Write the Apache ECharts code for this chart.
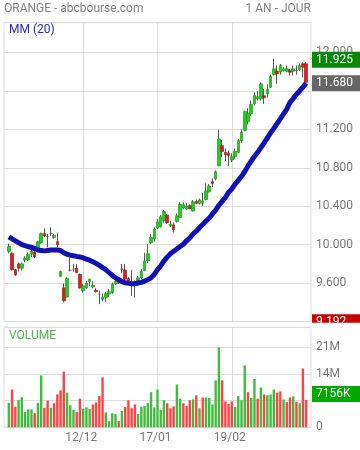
<!DOCTYPE html>
<html><head><meta charset="utf-8">
<script src="https://cdn.jsdelivr.net/npm/echarts@6/dist/echarts.min.js"></script>
<style>html,body{margin:0;padding:0;background:#fff}#c{width:360px;height:450px}</style>
</head><body><div id="c"></div>
<script>
// ---- data ----
const dates = ['11/11','12/11','13/11','14/11','15/11','18/11','19/11','20/11','21/11','22/11','25/11','26/11','27/11','28/11','29/11',
'02/12','03/12','04/12','05/12','06/12','09/12','10/12','11/12','12/12','13/12','16/12','17/12','18/12','19/12','20/12','23/12','24/12','27/12','30/12','31/12',
'02/01','03/01','06/01','07/01','08/01','09/01','10/01','13/01','14/01','15/01','16/01','17/01','20/01','21/01','22/01','23/01','24/01','27/01','28/01','29/01','30/01','31/01',
'03/02','04/02','05/02','06/02','07/02','10/02','11/02','12/02','13/02','14/02','17/02','18/02','19/02','20/02','21/02','24/02','25/02','26/02','27/02','28/02',
'03/03','04/03','05/03','06/03','07/03','10/03','11/03','12/03','13/03','14/03','17/03','18/03','19/03','20/03','21/03','24/03'];
const xTickLabels = ['12/12','17/01','19/02'];
const open  = [9.93,9.91,9.74,9.80,9.755,9.84,9.84,9.90,9.92,9.945,10.02,10.115,10.085,10.115,10.075,10.03,9.67,9.55,9.455,9.735,9.745,9.755,9.69,9.52,9.55,9.615,9.56,9.525,9.485,9.43,9.45,9.485,9.50,9.59,9.63,9.745,9.735,9.645,9.61,9.575,9.605,9.655,9.73,9.83,10.02,10.057,10.172,10.186,10.248,10.308,10.193,10.206,10.241,10.283,10.38,10.37,10.405,10.35,10.45,10.43,10.43,10.47,10.55,10.655,10.683,10.82,11.03,10.96,10.955,10.88,10.915,10.96,11.082,11.19,11.28,11.36,11.465,11.52,11.517,11.55,11.57,11.638,11.77,11.805,11.795,11.812,11.805,11.81,11.805,11.812,11.82,11.882,11.882];
const close = [9.98,9.74,9.685,9.755,9.80,9.86,9.90,9.93,9.875,10.03,10.115,10.09,10.085,10.115,10.095,10.00,9.72,9.415,9.65,9.735,9.745,9.71,9.55,9.57,9.60,9.64,9.575,9.51,9.485,9.455,9.49,9.51,9.59,9.62,9.60,9.745,9.64,9.62,9.61,9.575,9.655,9.72,9.83,9.905,10.075,10.162,10.238,10.29,10.345,10.23,10.214,10.157,10.30,10.42,10.415,10.405,10.376,10.446,10.43,10.465,10.455,10.56,10.61,10.637,10.76,11.10,10.97,10.936,10.93,10.915,10.97,11.082,11.17,11.385,11.367,11.458,11.552,11.54,11.674,11.53,11.614,11.75,11.83,11.778,11.864,11.83,11.83,11.795,11.83,11.812,11.864,11.847,11.69];
const high  = [10.01,9.92,9.745,9.815,9.815,9.88,9.92,9.945,9.945,10.04,10.125,10.17,10.11,10.18,10.11,10.125,9.73,9.595,9.66,9.86,9.80,9.80,9.70,9.59,9.62,9.645,9.62,9.545,9.52,9.49,9.51,9.54,9.605,9.64,9.65,9.80,9.80,9.66,9.735,9.63,9.675,9.745,9.915,10.005,10.11,10.18,10.266,10.31,10.36,10.32,10.248,10.23,10.324,10.446,10.44,10.43,10.42,10.464,10.47,10.48,10.54,10.64,10.63,10.69,10.77,11.194,11.09,11.0,10.98,10.95,11.0,11.10,11.20,11.395,11.42,11.50,11.586,11.60,11.69,11.62,11.67,11.77,11.934,11.864,11.88,11.847,11.864,11.83,11.864,11.864,11.885,11.90,11.90];
const low   = [9.91,9.73,9.675,9.72,9.73,9.815,9.83,9.87,9.86,9.935,10.01,10.075,9.97,10.09,10.06,9.97,9.665,9.40,9.45,9.72,9.72,9.70,9.54,9.50,9.535,9.57,9.545,9.50,9.38,9.41,9.40,9.455,9.49,9.58,9.59,9.70,9.62,9.61,9.465,9.45,9.57,9.64,9.725,9.81,10.005,10.03,10.162,10.18,10.23,10.215,10.18,10.126,10.23,10.276,10.366,10.36,10.37,10.345,10.42,10.42,10.40,10.46,10.54,10.60,10.67,10.82,10.91,10.87,10.82,10.86,10.895,10.95,11.06,11.18,11.25,11.34,11.447,11.50,11.50,11.465,11.53,11.63,11.76,11.674,11.77,11.80,11.795,11.76,11.76,11.77,11.81,11.742,11.69];
const ma20  = [10.08,10.06,10.04,10.02,10.00,9.99,9.98,9.97,9.96,9.945,9.94,9.935,9.94,9.945,9.945,9.945,9.94,9.915,9.90,9.89,9.885,9.878,9.872,9.862,9.85,9.838,9.822,9.805,9.785,9.76,9.74,9.71,9.68,9.655,9.635,9.615,9.603,9.598,9.594,9.594,9.60,9.607,9.62,9.635,9.655,9.69,9.74,9.78,9.83,9.87,9.905,9.93,9.955,9.98,10.005,10.04,10.07,10.11,10.14,10.175,10.21,10.245,10.275,10.32,10.36,10.41,10.45,10.49,10.545,10.58,10.63,10.67,10.71,10.76,10.82,10.87,10.92,10.96,11.01,11.06,11.11,11.165,11.21,11.26,11.31,11.36,11.41,11.48,11.52,11.565,11.60,11.64,11.68];
const volume = [6.4,9.9,5.4,7.1,7.9,4.0,4.7,4.7,3.7,6.4,13.6,5.1,7.0,5.1,6.3,8.6,9.7,14.6,9.1,5.8,4.6,4.0,7.5,4.8,5.2,4.8,6.0,6.5,8.2,13.1,3.9,1.6,3.7,3.5,1.6,4.3,5.3,7.1,5.0,6.0,3.5,5.4,5.6,6.3,9.2,5.2,9.9,4.6,7.1,6.3,5.0,5.5,11.2,7.5,6.3,5.6,7.1,7.3,8.4,5.0,7.8,7.8,7.7,6.0,12.3,20.9,12.3,6.8,6.1,6.8,5.3,8.2,7.1,16.2,9.2,7.7,12.7,7.5,10.4,8.6,8.4,8.6,9.9,9.1,9.4,7.3,6.6,7.8,8.1,6.7,6.3,15.4,7.156];
const volUp = [1,0,0,1,1,1,1,1,0,1,1,0,0,1,0,0,0,0,1,1,1,0,0,1,1,1,0,0,0,0,1,1,1,1,0,1,0,0,0,0,1,1,1,1,1,1,1,1,1,0,0,0,1,1,0,0,0,1,0,1,0,1,1,1,1,1,0,0,0,0,1,1,1,1,0,1,1,0,1,0,1,1,1,0,0,1,0,0,1,0,1,0,0];
const priceTickLabels = [9.6,10.0,10.4,10.8,11.2,12.0];
const volTickLabels = [0,14,21];
const tagHigh = 11.925;
const tagLow = 9.192;

// ---- chart ----
const chart = echarts.init(document.getElementById('c'), null, {renderer:'canvas'});
const cats = [''].concat(dates, [' ']);
const F = 'Roboto';
const gridLine = {silent:true, symbol:['none','none'], label:{show:false}, z:1,
  lineStyle:{color:'#dddddd', width:1, type:'solid'}, emphasis:{disabled:true},
  data: xTickLabels.map(d => ({xAxis:d})), animation:false};

// wick series: degenerate body at the low, wick drawn from high to low
const wickData = dates.map((d,i) => [i+1, low[i], low[i], low[i], high[i]]);
const bodyData = dates.map((d,i) => {
  const v = [i+1, open[i], close[i], Math.min(open[i],close[i]), Math.max(open[i],close[i])];
  if (open[i] === close[i]) return {value:v, itemStyle:{color:'#666', color0:'#666', borderColor:'#666', borderColor0:'#666'}};
  return v;
});
const maData = ma20.map((v,i) => [i+1, v]);
const volData = volume.map((v,i) => ({value:[i+1, v], itemStyle:{color: volUp[i] ? '#3fbb3f' : '#ff4343'}}));

const option = {
  animation:false,
  textStyle:{fontFamily:F},
  grid:[
    {left:4, width:307, top:22.7, height:298.8, show:true, borderColor:'#dddddd', borderWidth:1, backgroundColor:'transparent'},
    {left:4, width:307, top:327.3, height:100, show:true, borderColor:'#dddddd', borderWidth:1, backgroundColor:'transparent'}
  ],
  xAxis:[
    {type:'category', gridIndex:0, data:cats, boundaryGap:true, axisLine:{show:false}, axisTick:{show:false}, axisLabel:{show:false}, splitLine:{show:false}},
    {type:'category', gridIndex:1, data:cats, boundaryGap:true, axisLine:{show:false}, axisTick:{show:false},
     axisLabel:{show:true, interval:(i,v) => xTickLabels.includes(v), color:'#777', fontSize:12, fontFamily:F, margin:5, padding:[0,4,0,0]},
     splitLine:{show:false}}
  ],
  yAxis:[
    {type:'value', gridIndex:0, position:'right', min:9.2, max:12.31, interval:0.4, scale:true,
     axisLine:{show:false}, axisTick:{show:false}, splitLine:{show:true, lineStyle:{color:'#dddddd', width:1}},
     axisLabel:{color:'#777', fontSize:12, fontFamily:F, margin:5, padding:[0,0,4,0],
       formatter: v => priceTickLabels.some(t => Math.abs(t-v) < 1e-6) ? v.toFixed(3) : ''}},
    {type:'value', gridIndex:1, position:'right', min:0, max:26.2, interval:7,
     axisLine:{show:false}, axisTick:{show:false}, splitLine:{show:true, lineStyle:{color:'#dddddd', width:1}},
     axisLabel:{color:'#777', fontSize:12, fontFamily:F, margin:5, padding:[0,0,4,0],
       formatter: v => volTickLabels.some(t => Math.abs(t-v) < 1e-6) ? (v === 0 ? '0' : v + 'M') : ''}}
  ],
  series:[
    {type:'candlestick', name:'wick', xAxisIndex:0, yAxisIndex:0, data:wickData, encode:{x:0, y:[1,2,3,4]},
     barWidth:1, clip:false, z:2,
     itemStyle:{color:'#555', color0:'#555', borderColor:'#555', borderColor0:'#555', borderColorDoji:'#555', borderWidth:1},
     markLine:gridLine},
    {type:'candlestick', name:'body', xAxisIndex:0, yAxisIndex:0, data:bodyData, encode:{x:0, y:[1,2,3,4]},
     barWidth:3, clip:false, z:3,
     itemStyle:{color:'#22d022', color0:'#e02020', borderColor:'#149a14', borderColor0:'#a81414', borderWidth:0.7}},
    {type:'line', name:'MM (20)', xAxisIndex:0, yAxisIndex:0, data:maData, symbol:'none', z:4,
     lineStyle:{color:'#1212b4', width:5}},
    {type:'bar', name:'VOLUME', xAxisIndex:1, yAxisIndex:1, data:volData, barWidth:2.4, z:3,
     markLine:gridLine}
  ]
};
chart.setOption(option);

const py = v => chart.convertToPixel({yAxisIndex:0}, v);
const vy = v => chart.convertToPixel({yAxisIndex:1}, v);
function tag(y, txt, fill) {
  return [
    {type:'rect', z:100, shape:{x:312, y:y-8, width:48, height:16}, style:{fill:fill}},
    {type:'text', z:101, x:316, y:y, style:{text:txt, fill:'#fff', font:'12px ' + F, verticalAlign:'middle', align:'left'}}
  ];
}
const lastVol = volume[volume.length-1];
const g = [].concat(
  tag(py(tagHigh), tagHigh.toFixed(3), '#0a870a'),
  tag(py(ma20[ma20.length-1]), ma20[ma20.length-1].toFixed(3), '#666666'),
  tag(py(tagLow), tagLow.toFixed(3), '#c80000'),
  [{type:'rect', z:102, shape:{x:311.6, y:322.8, width:49, height:4.2}, style:{fill:'#fff'}},
   {type:'rect', z:102, shape:{x:311.6, y:327, width:49, height:6}, style:{fill:'#fff'}}],
  tag(vy(lastVol) - 6, Math.round(lastVol*1000) + 'K', '#00a800'),
  [
    {type:'text', z:100, x:4, y:9, style:{text:'ORANGE - abcbourse.com', fill:'#808080', font:'12px ' + F, verticalAlign:'middle'}},
    {type:'text', z:100, x:311, y:9, style:{text:'1 AN - JOUR', fill:'#808080', font:'12px ' + F, verticalAlign:'middle', align:'right'}},
    {type:'text', z:100, x:9, y:30, style:{text:'MM (20)', fill:'#2626c8', font:'12px ' + F, verticalAlign:'middle'}},
    {type:'text', z:100, x:9, y:336, style:{text:'VOLUME', fill:'#45bb45', font:'12px ' + F, verticalAlign:'middle'}}
  ]
);
chart.setOption({graphic: g});
</script></body></html>
